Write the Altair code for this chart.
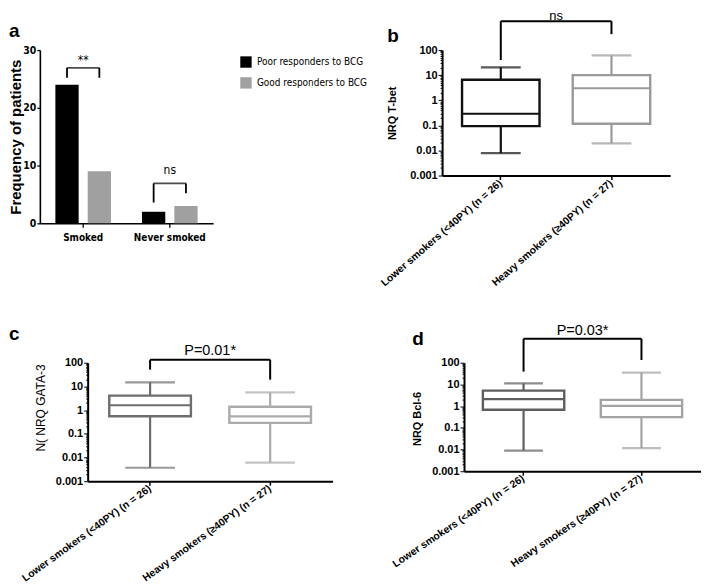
import altair as alt
import pandas as pd

FONT = "Liberation Sans"
NARROW = "Liberation Sans Narrow, DejaVu Sans Condensed, Liberation Sans, sans-serif"

# ---------------- panel a data ----------------
a_categories = ["Smoked", "Never smoked"]
a_series = ["Poor responders to BCG", "Good responders to BCG"]
a_poor = [24, 2]
a_good = [9, 3]
a_colors = ["#000000", "#a0a0a0"]
a_y_ticks = [0, 10, 20, 30]
a_sig_labels = ["**", "ns"]
a_sig_text_y = [27.6, 8.6]
a_sig_bar_y = [26.9, 6.9]
a_sig_end_poor = [25.2, 3.6]
a_sig_end_good = [25.2, 5.2]

# ---------------- panels b-d data ----------------
groups = ["Lower smokers (<40PY) (n = 26)", "Heavy smokers (\u226540PY) (n = 27)"]

b_low = [0.0078, 0.019]
b_q1 = [0.093, 0.115]
b_med = [0.29, 3.0]
b_q3 = [6.6, 10.0]
b_high = [20.6, 61.0]
b_colors = ["#111111", "#9a9a9a"]
b_sig = {"label": "ns", "top": 1413, "ends": [40, 431], "text_y": 1600}

c_low = [0.0037, 0.0061]
c_q1 = [0.55, 0.29]
c_med = [1.6, 0.54]
c_q3 = [4.1, 1.38]
c_high = [14.9, 5.6]
c_colors = ["#6e6e6e", "#ababab"]
c_sig = {"label": "P=0.01*", "top": 134, "ends": [51, 19.3], "text_y": 217}

d_low = [0.0089, 0.0117]
d_q1 = [0.68, 0.31]
d_med = [2.1, 1.02]
d_q3 = [5.2, 1.95]
d_high = [11.2, 35.0]
d_colors = ["#5e5e5e", "#a3a3a3"]
d_sig = {"label": "P=0.03*", "top": 1260, "ends": [39, 133], "text_y": 1900}

# minor + major tick positions for the log axes
log_ticks = []
for e in range(-3, 2):
    for m in range(1, 10):
        log_ticks.append(float(f"{m}e{e}"))
log_ticks.append(100.0)

MAJOR_TEST = "indexof([0.001, 0.01, 0.1, 1, 10, 100], datum.value) >= 0"


def letter_title(txt, dx, dy):
    return alt.TitleParams(txt, anchor="start", frame="group", dx=dx, dy=dy,
                           font=FONT, fontSize=19, fontWeight="bold", color="black")


# ---------------- panel a ----------------
a_df = pd.DataFrame({
    "category": a_categories * 2,
    "series": [a_series[0]] * 2 + [a_series[1]] * 2,
    "value": a_poor + a_good,
})
a_x = alt.Scale(domain=a_categories, paddingInner=0, paddingOuter=0)
a_xo = alt.Scale(domain=a_series, paddingInner=0.28, paddingOuter=0.48)
a_y = alt.Scale(domain=[0, 30], nice=False)

a_xaxis = alt.Axis(title=None, labelAngle=0, labelFont=NARROW, labelFontWeight="bold",
                   labelFontSize=10, labelColor="black", domainColor="black", domainWidth=1.6,
                   tickColor="black", tickSize=4, tickWidth=1.3, labelPadding=5)
a_yaxis = alt.Axis(title="Frequency of patients", values=a_y_ticks, grid=False,
                   labelFont=NARROW, labelFontWeight="bold", labelFontSize=10.5,
                   labelColor="black", domainColor="black", domainWidth=1.6,
                   tickColor="black", tickSize=3, tickWidth=1.3, labelPadding=1,
                   titleFont=FONT, titleFontWeight="bold", titleFontSize=15,
                   titleColor="black", titleX=-16, titleY=87, titleAngle=270,
                   titleAlign="center", titleBaseline="bottom")

a_bars = alt.Chart(a_df).mark_bar().encode(
    x=alt.X("category:N", scale=a_x, sort=a_categories, axis=a_xaxis),
    xOffset=alt.XOffset("series:N", scale=a_xo, sort=a_series),
    y=alt.Y("value:Q", scale=a_y, axis=a_yaxis),
    color=alt.Color("series:N", scale=alt.Scale(domain=a_series, range=a_colors),
                    legend=alt.Legend(title=None, orient="none", legendX=201, legendY=6,
                                      symbolType="square", symbolSize=130,
                                      symbolStrokeWidth=0, labelFont=NARROW,
                                      labelFontSize=10, labelColor="black",
                                      labelOffset=5, rowPadding=9, labelLimit=300)),
)

a_legs_df = pd.DataFrame({
    "category": a_categories * 2,
    "series": [a_series[0]] * 2 + [a_series[1]] * 2,
    "top": a_sig_bar_y * 2,
    "end": a_sig_end_poor + a_sig_end_good,
})
a_legs = alt.Chart(a_legs_df).mark_rule(color="black", strokeWidth=1.8).encode(
    x=alt.X("category:N", scale=a_x, sort=a_categories),
    xOffset=alt.XOffset("series:N", scale=a_xo, sort=a_series),
    y=alt.Y("top:Q", scale=a_y),
    y2="end:Q",
)
a_sig_df = pd.DataFrame({"category": a_categories, "top": a_sig_bar_y,
                         "label": a_sig_labels, "ty": a_sig_text_y})
a_hbar = alt.Chart(a_sig_df).mark_tick(color="black", size=33, thickness=1.8,
                                       orient="horizontal").encode(
    x=alt.X("category:N", scale=a_x, sort=a_categories),
    y=alt.Y("top:Q", scale=a_y),
)
a_text = alt.Chart(a_sig_df).mark_text(font=NARROW, fontSize=12, baseline="alphabetic",
                                       color="black").encode(
    x=alt.X("category:N", scale=a_x, sort=a_categories),
    y=alt.Y("ty:Q", scale=a_y),
    text="label:N",
)
panel_a = alt.layer(a_bars, a_legs, a_hbar, a_text).properties(
    width=174, height=174, title=letter_title("a", -31, 0))


# ---------------- box panels ----------------
def box_panel(low, q1, med, q3, high, colors, sig, letter, letter_dx, letter_dy,
              width, height, x_range, axis_offset, p_in, p_out, cap, label_angle,
              ytitle, ytitle_x, ytitle_y, ytitle_bold, ytitle_size, sig_size):
    df = pd.DataFrame({"group": groups, "low": low, "q1": q1, "med": med,
                       "q3": q3, "high": high})
    xs = alt.Scale(domain=groups, paddingInner=p_in, paddingOuter=p_out, range=x_range)
    ys = alt.Scale(type="log", domain=[0.001, 100], nice=False)
    cs = alt.Scale(domain=groups, range=colors)
    xaxis = alt.Axis(title=None, labelAngle=label_angle, labelAlign="right",
                     labelBaseline="middle", labelFont=FONT, labelFontWeight="bold",
                     labelFontSize=10.4, labelColor="black", labelLimit=400,
                     domainColor="black", domainWidth=2, tickColor="black",
                     tickSize=4, tickWidth=1.5, labelPadding=2)
    yaxis = alt.Axis(title=ytitle, values=log_ticks, grid=False, offset=axis_offset,
                     labelExpr=MAJOR_TEST + " ? format(datum.value, '~g') : ''",
                     labelFont=FONT, labelFontWeight="bold", labelFontSize=11,
                     labelColor="black", labelPadding=1,
                     domainColor="black", domainWidth=2, tickColor="black", tickWidth=1,
                     tickSize={"condition": {"test": MAJOR_TEST, "value": 4}, "value": 2},
                     titleFont=FONT, titleFontWeight="bold" if ytitle_bold else "normal",
                     titleFontSize=ytitle_size, titleColor="black", titleX=ytitle_x,
                     titleY=ytitle_y, titleAngle=270, titleAlign="center",
                     titleBaseline="bottom")
    X = alt.X("group:N", scale=xs, sort=groups, axis=xaxis)
    col = alt.Color("group:N", scale=cs, legend=None)
    whisk = alt.Chart(df).mark_rule(strokeWidth=2.2).encode(
        x=X, y=alt.Y("low:Q", scale=ys, axis=yaxis), y2="high:Q", color=col)
    box = alt.Chart(df).mark_bar(fill="white", strokeWidth=2.4).encode(
        x=X, y=alt.Y("q1:Q", scale=ys), y2="q3:Q",
        stroke=alt.Stroke("group:N", scale=cs, legend=None))
    medl = alt.Chart(df).mark_bar(fill="white", strokeWidth=2.2).encode(
        x=X, y=alt.Y("med:Q", scale=ys), y2="med:Q",
        stroke=alt.Stroke("group:N", scale=cs, legend=None))
    cap_lo = alt.Chart(df).mark_tick(size=cap, thickness=2.2, orient="horizontal").encode(
        x=X, y=alt.Y("low:Q", scale=ys), color=col)
    cap_hi = alt.Chart(df).mark_tick(size=cap, thickness=2.2, orient="horizontal").encode(
        x=X, y=alt.Y("high:Q", scale=ys), color=col)

    hdf = pd.DataFrame({"g1": [groups[0]], "g2": [groups[1]], "top": [sig["top"]],
                        "label": [sig["label"]], "ty": [sig["text_y"]]})
    hline = alt.Chart(hdf).mark_rule(color="black", strokeWidth=2).encode(
        x=alt.X("g1:N", scale=xs, sort=groups), x2="g2", y=alt.Y("top:Q", scale=ys))
    ldf = pd.DataFrame({"group": groups, "top": [sig["top"]] * 2, "end": sig["ends"]})
    legs = alt.Chart(ldf).mark_rule(color="black", strokeWidth=2).encode(
        x=alt.X("group:N", scale=xs, sort=groups), y=alt.Y("top:Q", scale=ys), y2="end:Q")
    step = (x_range[1] - x_range[0]) / (2 - p_in + 2 * p_out)
    txt = alt.Chart(hdf).mark_text(font=FONT, fontSize=sig_size, baseline="alphabetic",
                                   color="black", dx=step / 2).encode(
        x=alt.X("g1:N", scale=xs, sort=groups), y=alt.Y("ty:Q", scale=ys), text="label:N")
    return alt.layer(whisk, box, medl, cap_lo, cap_hi, hline, legs, txt).properties(
        width=width, height=height, title=letter_title(letter, letter_dx, letter_dy))


panel_b = box_panel(b_low, b_q1, b_med, b_q3, b_high, b_colors, b_sig, "b", -55, 40,
                    229, 126, [0, 229], 0, 0.30, 0.18, 40, -41,
                    "NRQ T-bet", -45, 63, True, 11, 13)
panel_c = box_panel(c_low, c_q1, c_med, c_q3, c_high, c_colors, c_sig, "c", -31, 5,
                    294, 119, [48, 294], -48, 0.32, 0.18, 50, -36,
                    "N(  NRQ GATA-3", -40, 45, False, 12, 14.5)
panel_d = box_panel(d_low, d_q1, d_med, d_q3, d_high, d_colors, d_sig, "d", -30, 30,
                    260, 109, [22, 260], -22, 0.31, 0.16, 39, -34,
                    "NRQ Bcl-6", -42, 56, True, 11, 14.5)

chart = alt.concat(
    panel_a, panel_b, panel_c, panel_d, columns=2, bounds="flush",
    spacing={"row": 140, "column": 110},
).resolve_scale(
    x="independent", y="independent", color="independent", stroke="independent",
    xOffset="independent",
).properties(
    padding=0, background="white"
).configure_view(stroke=None)

chart.save("out.html", embed_options={"renderer": "svg", "actions": False})
